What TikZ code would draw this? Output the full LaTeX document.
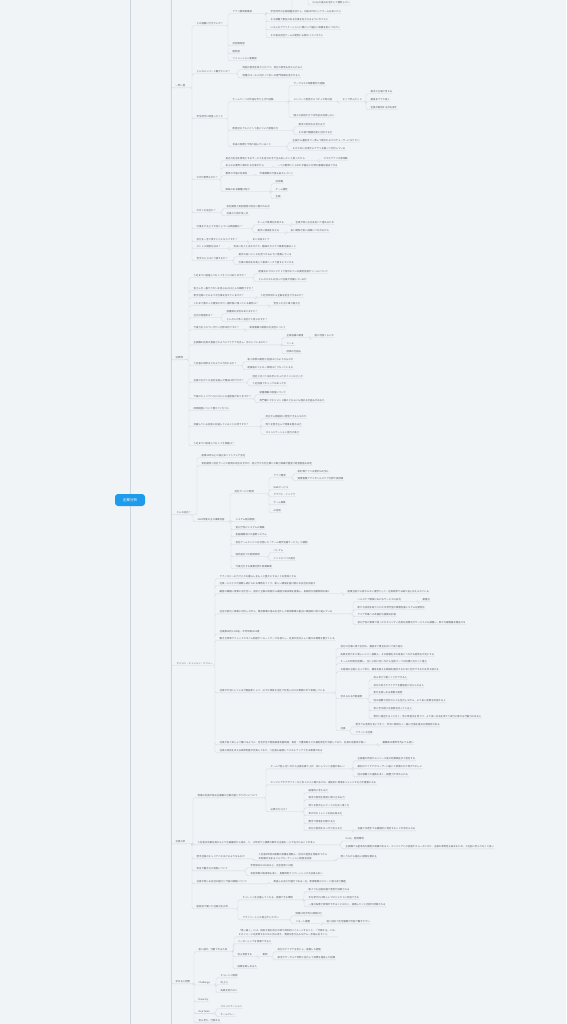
\documentclass[tikz,border=0pt]{standalone}
\usepackage{fontspec}
\setmainfont{Noto Sans CJK JP}
\definecolor{bgc}{HTML}{F1F4F7}
\definecolor{linec}{HTML}{CDD5DD}
\definecolor{txtc}{HTML}{555B61}
\definecolor{rootc}{HTML}{1E9BEA}
\begin{document}
\begin{tikzpicture}[x=1pt,y=-1pt]

    \tikzset{
      txt/.style={
        anchor=west,
        inner sep=0.5pt,
        text=txtc,
        font=\fontsize{2.4}{3}\selectfont,
      },
      root/.style={
        fill=rootc,
        rounded corners=3pt,
        text=white,
        minimum width=30pt,
        minimum height=12pt,
        inner sep=1pt,
        font=\fontsize{3.6}{4}\selectfont,
      },
      link/.style={
        draw=linec,
        line width=.35pt,
        rounded corners=1.5pt,
        to path={(\tikztostart.south east) -| ([xshift=-4pt]\tikztotarget.south west) -- (\tikztotarget.south east)},
      },
      trunk/.style={
        draw=linec,
        line width=.4pt,
        rounded corners=2pt,
        to path={(\tikztostart) |- (\tikztotarget.south west) -- (\tikztotarget.south east)},
      },
      hidden/.style={
        anchor=west,
        inner sep=0pt,
        minimum size=0pt,
      },
    }

	\useasboundingbox (0,0) rectangle (566,1024);
	\fill[bgc] (0,0) rectangle (566,1024);
	\clip (0,0) rectangle (566,1024);

	% root and spines
	\coordinate (rT) at (130,0);
	\coordinate (rB) at (130,1024);
	\coordinate (spT) at (171,0);
	\coordinate (spB) at (171,1024);
	\draw[linec,line width=.4pt] (rT) -- (rB);
	\draw[linec,line width=.4pt] (spT) -- (spB);
	\node[root] (root) at (130,500) {企業分析};

	% level 1
	\node[txt] (qa) at (175,86) {一問一答};
	\node[txt] (gq) at (175,358) {逆質問};
	\node[txt] (co) at (176,513) {どんな会社？};
	\node[txt] (vi) at (176,664) {ビジョン・ミッション・バリュー};
	\node[txt] (vo) at (175,842) {社員の声};
	\node[txt] (jb) at (175,982) {求める人物像};
	\draw[trunk] (spT) to (qa) (spT) to (gq) (spT) to (co) (spT) to (vi) (spT) to (vo) (spT) to (jb);

	% 一問一答
	\node[txt] (qa1) at (196,24) {どの部署に行きたいか？};
	\node[hidden] (qa1x) at (296,-4) {};
	\node[txt] (qa1x1) at (312,3) {Unityの強みを活かして開発したい};
	\node[txt] (qa1a) at (232,12) {アプリ開発事業部};
	\node[txt] (qa1a1) at (270,12) {学生時代の企画経験を活かし、将来はPMとしてチームを率いたい};
	\node[txt] (qa1a2) at (270,20) {その部署で責任のある仕事を任されるようになりたい};
	\node[txt] (qa1a3) at (270,28) {いろんなアプリケーションに関わって幅広い知識を身につけたい};
	\node[txt] (qa1a4) at (270,36) {その後は自社ゲームの開発にも関わっていきたい};
	\node[txt] (qa1b) at (232,44) {技術開発部};
	\node[txt] (qa1c) at (232,52) {開発部};
	\node[txt] (qa1d) at (232,59) {ソリューション事業部};
	\node[txt] (qa2) at (196,72) {どんなメンバーと働きたいか？};
	\node[txt] (qa2a) at (242,68) {周囲の意見を取り入れつつ、自分の意見も伝えられる人};
	\node[txt] (qa2b) at (242,76) {明確なゴールに向かって互いの専門知識を活かせる人};
	\node[txt] (qa3) at (196,117) {学生時代に頑張ったこと};
	\node[txt] (qa3a) at (232,100) {チームで一つの作品を作り上げた経験};
	\node[txt] (qa3a1) at (293,84) {サークルでの映像制作の経験};
	\node[txt] (qa3a2) at (293,100) {メンバーと意見がぶつかった時の話};
	\node[txt] (qa3a2a) at (342,100) {そこで学んだこと};
	\node[txt] (qa3a2a1) at (370,92) {相手の立場で考える};
	\node[txt] (qa3a2a2) at (370,100) {最後までやり抜く};
	\node[txt] (qa3a2a3) at (370,108) {全員が納得する形を探す};
	\node[txt] (qa3a3) at (293,116) {個人の技術だけでは作品は完成しない};
	\node[txt] (qa3b) at (232,129) {飲食店のアルバイトで身についた接客の力};
	\node[txt] (qa3b1) at (298,125) {相手の気持ちを考える力};
	\node[txt] (qa3b2) at (298,133) {その場で臨機応変に対応する力};
	\node[txt] (qa3c) at (232,145) {将来の目標と今取り組んでいること};
	\node[txt] (qa3c1) at (292,141) {企画から運用まで一貫して携われるプロデューサーになりたい};
	\node[txt] (qa3c2) at (292,149) {そのために日頃からアプリを触って分析している};
	\node[txt] (qa4) at (196,178) {なぜIT業界なのか？};
	\node[txt] (qa4a) at (225,159) {身近な生活を便利にするサービスを自分の手で生み出したいと思ったから};
	\node[txt] (qa4a1) at (323,159) {スマホアプリの原体験};
	\node[txt] (qa4b) at (225,166) {あらゆる業界と関われる仕事だから};
	\node[txt] (qa4b1) at (277,166) {一つの業界にとらわれず幅広い分野の課題を解決できる};
	\node[txt] (qa4c) at (225,174) {業界の今後の将来性};
	\node[txt] (qa4c1) at (259,174) {市場規模は今後も拡大していく};
	\node[txt] (qa4d) at (225,190) {興味のある職種は何か};
	\node[txt] (qa4d1) at (275,182) {技術職};
	\node[txt] (qa4d2) at (275,190) {ゲーム開発};
	\node[txt] (qa4d3) at (275,197) {企画};
	\node[txt] (qa5) at (196,211) {なぜこの会社か？};
	\node[txt] (qa5a) at (226,207) {自社開発と受託開発の両方に携われる点};
	\node[txt] (qa5b) at (226,214) {社員の人柄が良い点};
	\node[txt] (qa6) at (196,227) {仕事をする上で大切にしている価値観は？};
	\node[txt] (qa6a) at (257,223) {チームで目標を共有する};
	\node[txt] (qa6a1) at (295,223) {全員が同じ方向を向いて進めるため};
	\node[txt] (qa6b) at (257,231) {相手に感謝を伝える};
	\node[txt] (qa6b1) at (290,231) {良い関係が良い成果につながるから};
	\node[txt] (qa7) at (196,240) {自分を一言で表すとどんな人ですか？};
	\node[txt] (qa7a) at (252,240) {まとめ役タイプ};
	\node[txt] (qa8) at (196,247) {ストレス発散方法は？};
	\node[txt] (qa8a) at (233,247) {休日に友人と出かけたり、趣味のカメラで風景を撮ること};
	\node[txt] (qa9) at (196,259) {苦手な人とはどう接するか？};
	\node[txt] (qa9a) at (238,255) {相手の良いところを見つけるように意識している};
	\node[txt] (qa9b) at (238,263) {仕事の目的を共有して事実ベースで話すようにする};
	\draw[link] (qa) to (qa1) (qa) to (qa2) (qa) to (qa3) (qa) to (qa4) (qa) to (qa5) (qa) to (qa6) (qa) to (qa7) (qa) to (qa8) (qa) to (qa9);
	\draw[link] (qa1) to (qa1a) (qa1) to (qa1b) (qa1) to (qa1c) (qa1) to (qa1d);
	\draw[link] (qa1a) to (qa1x) (qa1a) to (qa1a1) (qa1a) to (qa1a2) (qa1a) to (qa1a3) (qa1a) to (qa1a4);
	\draw[link] (qa1x) to (qa1x1);
	\draw[link] (qa2) to (qa2a) (qa2) to (qa2b);
	\draw[link] (qa3) to (qa3a) (qa3) to (qa3b) (qa3) to (qa3c);
	\draw[link] (qa3a) to (qa3a1) (qa3a) to (qa3a2) (qa3a) to (qa3a3);
	\draw[link] (qa3a2) to (qa3a2a);
	\draw[link] (qa3a2a) to (qa3a2a1) (qa3a2a) to (qa3a2a2) (qa3a2a) to (qa3a2a3);
	\draw[link] (qa3b) to (qa3b1) (qa3b) to (qa3b2);
	\draw[link] (qa3c) to (qa3c1) (qa3c) to (qa3c2);
	\draw[link] (qa4) to (qa4a) (qa4) to (qa4b) (qa4) to (qa4c) (qa4) to (qa4d);
	\draw[link] (qa4a) to (qa4a1);
	\draw[link] (qa4b) to (qa4b1);
	\draw[link] (qa4c) to (qa4c1);
	\draw[link] (qa4d) to (qa4d1) (qa4d) to (qa4d2) (qa4d) to (qa4d3);
	\draw[link] (qa5) to (qa5a) (qa5) to (qa5b);
	\draw[link] (qa6) to (qa6a) (qa6) to (qa6b);
	\draw[link] (qa6a) to (qa6a1);
	\draw[link] (qa6b) to (qa6b1);
	\draw[link] (qa7) to (qa7a);
	\draw[link] (qa8) to (qa8a);
	\draw[link] (qa9) to (qa9a) (qa9) to (qa9b);

	% 逆質問
	\node[txt] (gq1) at (193,276) {入社までに勉強しておくべきことはありますか？};
	\node[txt] (gq1a) at (258,272) {配属先のプロジェクトで使われている開発言語やツールについて};
	\node[txt] (gq1b) at (258,280) {どんなスキルを持った社員が活躍しているか};
	\node[txt] (gq2) at (193,289) {皆さんが一番やりがいを感じるのはどんな瞬間ですか？};
	\node[txt] (gq3) at (193,296) {若手社員にどのような仕事を任せていますか？};
	\node[txt] (gq3a) at (260,296) {入社何年目から企画を担当できるのか？};
	\node[txt] (gq4) at (193,304) {これまで携わった開発の中で一番印象に残っている案件は？};
	\node[txt] (gq4a) at (273,304) {苦労した点と乗り越え方};
	\node[txt] (gq5) at (193,316) {社内の雰囲気は？};
	\node[txt] (gq5a) at (226,312) {部署間の交流はありますか？};
	\node[txt] (gq5b) at (226,320) {どんな人が多い会社だと感じますか？};
	\node[txt] (gq6) at (193,328) {今後力を入れていきたい分野は何ですか？};
	\node[txt] (gq6a) at (249,328) {新規事業の展開の方向性について};
	\node[txt] (gq7) at (193,343) {企画職の社員は普段どのようにアイデアを出し、形にしているのか？};
	\node[txt] (gq7a) at (286,336) {企画会議の頻度};
	\node[txt] (gq7a1) at (314,336) {週に何回くらいか};
	\node[txt] (gq7b) at (286,344) {ツール};
	\node[txt] (gq7c) at (286,352) {評価の仕組み};
	\node[txt] (gq8) at (193,364) {入社後の研修はどのように行われるか？};
	\node[txt] (gq8a) at (247,360) {新人研修の期間と内容はどのようなものか};
	\node[txt] (gq8b) at (247,368) {配属後のフォロー体制はどうなっているか};
	\node[txt] (gq9) at (193,381) {社員の方がこの会社を選んだ理由は何ですか？};
	\node[txt] (gq9a) at (252,377) {他社と比べて決め手になったポイントはどこか};
	\node[txt] (gq9b) at (252,384) {入社前後でギャップはあったか};
	\node[txt] (gq10) at (193,397) {今後のキャリアパスにはどんな選択肢がありますか？};
	\node[txt] (gq10a) at (259,393) {部署異動の制度について};
	\node[txt] (gq10b) at (259,401) {専門職とマネジメント職のどちらにも進める仕組みがあるか};
	\node[txt] (gq11) at (193,409) {評価制度について教えてください};
	\node[txt] (gq12) at (193,425) {活躍している社員に共通していることは何ですか？};
	\node[txt] (gq12a) at (265,417) {自分から積極的に発信できる人なのか};
	\node[txt] (gq12b) at (265,425) {周りを巻き込んで物事を進める力};
	\node[txt] (gq12c) at (265,433) {コミュニケーション能力の高さ};
	\node[txt] (gq13) at (193,444) {入社までに取得しておくべき資格は？};
	\draw[link] (gq) to (gq1) (gq) to (gq2) (gq) to (gq3) (gq) to (gq4) (gq) to (gq5) (gq) to (gq6) (gq) to (gq7);
	\draw[link] (gq) to (gq8) (gq) to (gq9) (gq) to (gq10) (gq) to (gq11) (gq) to (gq12) (gq) to (gq13);
	\draw[link] (gq1) to (gq1a) (gq1) to (gq1b);
	\draw[link] (gq3) to (gq3a);
	\draw[link] (gq4) to (gq4a);
	\draw[link] (gq5) to (gq5a) (gq5) to (gq5b);
	\draw[link] (gq6) to (gq6a);
	\draw[link] (gq7) to (gq7a) (gq7) to (gq7b) (gq7) to (gq7c);
	\draw[link] (gq7a) to (gq7a1);
	\draw[link] (gq8) to (gq8a) (gq8) to (gq8b);
	\draw[link] (gq9) to (gq9a) (gq9) to (gq9b);
	\draw[link] (gq10) to (gq10a) (gq10) to (gq10b);
	\draw[link] (gq12) to (gq12a) (gq12) to (gq12b) (gq12) to (gq12c);

	% どんな会社？
	\node[txt] (co1) at (201,456) {創業30年以上の独立系ソフトウェア会社};
	\node[txt] (co2) at (201,464) {受託開発と自社サービス開発の両方を手がけ、官公庁や大手企業との取引実績が豊富で経営基盤も安定};
	\node[txt] (co3) at (197,520) {2023年度の主な事業内容};
	\node[txt] (co3a) at (234,492) {自社サービス開発};
	\node[txt] (co3a1) at (273,476) {アプリ開発};
	\node[txt] (co3a1a) at (297,472) {家計簿アプリは累計100万DL};
	\node[txt] (co3a1b) at (297,479) {健康管理アプリがヘルスケア分野で高評価};
	\node[txt] (co3a2) at (273,488) {Webサービス};
	\node[txt] (co3a3) at (273,495) {クラウド・インフラ};
	\node[txt] (co3a4) at (273,503) {ゲーム事業};
	\node[txt] (co3a5) at (273,511) {AI活用};
	\node[txt] (co3b) at (235,520) {システム受託開発};
	\node[txt] (co3c) at (235,528) {官公庁向けシステムの構築};
	\node[txt] (co3d) at (235,535) {金融機関向けの基幹システム};
	\node[txt] (co3e) at (235,543) {自社ゲームエンジンを活用した「ゲーム制作支援サービス」の展開};
	\node[txt] (co3f) at (235,555) {海外拠点での開発体制};
	\node[txt] (co3f1) at (273,551) {ベトナム};
	\node[txt] (co3f2) at (273,559) {インドに二つの拠点};
	\node[txt] (co3g) at (235,567) {今後注力する事業分野と新規事業};
	\draw[link] (co) to (co1) (co) to (co2) (co) to (co3);
	\draw[link] (co3) to (co3a) (co3) to (co3b) (co3) to (co3c) (co3) to (co3d) (co3) to (co3e) (co3) to (co3f) (co3) to (co3g);
	\draw[link] (co3a) to (co3a1) (co3a) to (co3a2) (co3a) to (co3a3) (co3a) to (co3a4) (co3a) to (co3a5);
	\draw[link] (co3a1) to (co3a1a) (co3a1) to (co3a1b);
	\draw[link] (co3f) to (co3f1) (co3f) to (co3f2);

	% ビジョン
	\node[txt] (vi1) at (219,577) {テクノロジーの力で人々の暮らしをもっと豊かにすることを使命とする};
	\node[txt] (vi2) at (219,584) {社員一人ひとりが挑戦し続けられる環境をつくり、新しい価値を届け続ける会社を目指す};
	\node[txt] (vi3) at (219,592) {顧客の課題に真摯に向き合い、技術と企画の両面から最適な解決策を提案し、長期的な信頼関係を築く};
	\node[txt] (vi3a) at (347,592) {創業当初から変わらない理念として、社員研修でも繰り返し伝えられている};
	\node[txt] (vi4) at (219,612) {社会の変化に柔軟に対応しながら、既存事業の強みを活かした新規事業の創出に積極的に取り組んでいる};
	\node[txt] (vi4a) at (357,600) {ヘルスケア領域におけるサービスの拡充};
	\node[txt] (vi4a1) at (422,600) {最重点};
	\node[txt] (vi4b) at (357,608) {新たな技術を取り入れた次世代型の業務支援システムを開発中};
	\node[txt] (vi4c) at (357,615) {アジア市場への本格的な展開を計画};
	\node[txt] (vi4d) at (357,623) {官公庁向け事業で培ったセキュリティ技術を民間向けサービスにも展開し、新たな顧客層を開拓する};
	\node[txt] (vi5) at (219,632) {社員数は約1,200名、平均年齢は32歳};
	\node[txt] (vi6) at (219,639) {働き方改革でフレックスタイム制度やリモートワークを導入し、社員が自分らしく働ける環境を整えている};
	\node[txt] (vi7) at (219,691) {社員が大切にしている行動指針として、以下の項目を全社で共有し日々の業務の中で実践している};
	\node[txt] (vi7a) at (340,647) {自分の仕事に誇りを持ち、最後まで責任を持って取り組む};
	\node[txt] (vi7b) at (340,655) {失敗を恐れずに新しいことへ挑戦し、その経験を次の成長につなげる姿勢を大切にする};
	\node[txt] (vi7c) at (340,662) {チームの仲間を信頼し、互いに助け合いながら全員で一つの目標に向かって進む};
	\node[txt] (vi7d) at (340,670) {お客様の立場に立って考え、期待を超える価値を提供するために何ができるかを考え続ける};
	\node[txt] (vi7e) at (340,697) {求められる行動姿勢};
	\node[txt] (vi7e1) at (373,678) {自ら考えて動くことができる人};
	\node[txt] (vi7e2) at (373,686) {自分の考えやアイデアを積極的に伝えられる人};
	\node[txt] (vi7e3) at (373,693) {変化を楽しめる柔軟な姿勢};
	\node[txt] (vi7e4) at (373,701) {他の部署や社外の人とも協力しながら、より良い成果を目指せる人};
	\node[txt] (vi7e5) at (373,709) {常に学び続ける意欲を持っている人};
	\node[txt] (vi7e6) at (373,717) {現状に満足することなく、常に改善点を見つけ、より良い方法を考えて実行に移せる行動力のある人};
	\node[txt] (vi7f) at (340,729) {社風};
	\node[txt] (vi7f1) at (355,725) {若手でも意見を言いやすく、年次に関係なく一緒に仕事を進める雰囲気がある};
	\node[txt] (vi7f2) at (355,733) {フラットな社風};
	\node[txt] (vi8) at (219,743) {社員が長く安心して働けるように、住宅手当や資格取得支援制度、育児・介護休暇などの福利厚生が充実しており、社員の定着率が高い};
	\node[txt] (vi8a) at (382,743) {離職率は業界平均よりも低い};
	\node[txt] (vi9) at (219,751) {社員の成長を支える研修制度が充実しており、入社後も継続してスキルアップできる環境がある};
	\draw[link] (vi) to (vi1) (vi) to (vi2) (vi) to (vi3) (vi) to (vi4) (vi) to (vi5) (vi) to (vi6) (vi) to (vi7) (vi) to (vi8) (vi) to (vi9);
	\draw[link] (vi3) to (vi3a);
	\draw[link] (vi4) to (vi4a) (vi4) to (vi4b) (vi4) to (vi4c) (vi4) to (vi4d);
	\draw[link] (vi4a) to (vi4a1);
	\draw[link] (vi7) to (vi7a) (vi7) to (vi7b) (vi7) to (vi7c) (vi7) to (vi7d) (vi7) to (vi7e) (vi7) to (vi7f);
	\draw[link] (vi7e) to (vi7e1) (vi7e) to (vi7e2) (vi7e) to (vi7e3) (vi7e) to (vi7e4) (vi7e) to (vi7e5) (vi7e) to (vi7e6);
	\draw[link] (vi7f) to (vi7f1) (vi7f) to (vi7f2);
	\draw[link] (vi8) to (vi8a);

	% 社員の声
	\node[txt] (vo1) at (197,796) {現場の社員が語る企画職の仕事内容とやりがいについて};
	\node[txt] (vo1a) at (270,767) {チームで話し合いながら企画を練り上げ、形にしていく過程が楽しい};
	\node[txt] (vo1a1) at (357,759) {企画書の作成からリリース後の効果検証まで担当する};
	\node[txt] (vo1a2) at (357,767) {最初のアイデアがユーザーに届いて評価された時がうれしい};
	\node[txt] (vo1a3) at (357,775) {他の部署との連携も多く、調整力が求められる};
	\node[txt] (vo1b) at (270,783) {エンジニアやデザイナーなど多くの人と関わるため、最終的に物事をジャッジする力が重要になる};
	\node[txt] (vo1c) at (270,810) {必要な力とは？};
	\node[txt] (vo1c1) at (308,791) {論理的に考える力};
	\node[txt] (vo1c2) at (308,798) {相手の意見を素直に受け止める力};
	\node[txt] (vo1c3) at (308,806) {周りを巻き込んで一つの方向へ導く力};
	\node[txt] (vo1c4) at (308,814) {世の中のトレンドを読み取る力};
	\node[txt] (vo1c5) at (308,822) {数字で物事を判断する力};
	\node[txt] (vo1c6) at (308,829) {自分の意見をはっきり伝える力};
	\node[txt] (vo1c6a) at (357,829) {会議では若手でも積極的に発言することが求められる};
	\node[txt] (vo2) at (197,843) {入社後は先輩社員のもとで企画補助から始め、二、三年目で小規模な案件の企画を一人で任されることが多い};
	\node[txt] (vo2a) at (345,839) {Unity、開発環境};
	\node[txt] (vo2b) at (345,847) {企画職でも基本的な開発の知識があると、エンジニアとの会話がスムーズになり、企画の実現性も高まるため、入社前に学んでおくと良い};
	\node[txt] (vo3) at (196,857) {若手社員のキャリアパスはどのようなものか};
	\node[txt,align=left,font=\fontsize{2.4}{4}\selectfont] (vo3a) at (258,857) {入社後3年間は複数の部署を経験し、自分の適性を見極めてから\\本配属が決まるジョブローテーション制度を採用};
	\node[txt] (vo3a1) at (340,857) {若いうちから幅広い経験を積める};
	\node[txt] (vo4) at (196,869) {休日や働き方の実態について};
	\node[txt] (vo4a) at (250,866) {年間休日は125日以上、完全週休二日制};
	\node[txt] (vo4b) at (250,874) {有給休暇の取得率も高く、長期休暇でリフレッシュする社員も多い};
	\node[txt] (vo5) at (196,882) {社員が感じる会社の魅力と今後の課題について};
	\node[txt] (vo5a) at (273,882) {風通しの良さが魅力である一方、新規事業のスピード感はまだ課題};
	\node[txt] (vo6) at (196,907) {座談会で聞いた社員の生の声};
	\node[txt] (vo6a) at (242,898) {チャレンジを応援してくれる、挑戦できる環境};
	\node[txt] (vo6a1) at (308,890) {新人でも企画会議で意見が採用される};
	\node[txt] (vo6a2) at (308,898) {手を挙げれば新しいプロジェクトに参加できる};
	\node[txt] (vo6a3) at (308,905) {一度の失敗で評価が下がることはなく、挑戦したこと自体が評価される};
	\node[txt] (vo6b) at (242,918) {プライベートとの両立がしやすい};
	\node[txt] (vo6b1) at (295,914) {残業は月平均15時間ほど};
	\node[txt] (vo6b2) at (295,922) {リモート勤務};
	\node[txt] (vo6b2a) at (326,922) {週二回まで在宅勤務が可能で働きやすい};
	\draw[link] (vo) to (vo1) (vo) to (vo2) (vo) to (vo3) (vo) to (vo4) (vo) to (vo5) (vo) to (vo6);
	\draw[link] (vo1) to (vo1a) (vo1) to (vo1b) (vo1) to (vo1c);
	\draw[link] (vo1a) to (vo1a1) (vo1a) to (vo1a2) (vo1a) to (vo1a3);
	\draw[link] (vo1c) to (vo1c1) (vo1c) to (vo1c2) (vo1c) to (vo1c3) (vo1c) to (vo1c4) (vo1c) to (vo1c5) (vo1c) to (vo1c6);
	\draw[link] (vo1c6) to (vo1c6a);
	\draw[link] (vo2) to (vo2a) (vo2) to (vo2b);
	\draw[link] (vo3) to (vo3a);
	\draw[link] (vo3a) to (vo3a1);
	\draw[link] (vo4) to (vo4a) (vo4) to (vo4b);
	\draw[link] (vo5) to (vo5a);
	\draw[link] (vo6) to (vo6a) (vo6) to (vo6b);
	\draw[link] (vo6a) to (vo6a1) (vo6a) to (vo6a2) (vo6a) to (vo6a3);
	\draw[link] (vo6b) to (vo6b1) (vo6b) to (vo6b2);
	\draw[link] (vo6b2) to (vo6b2a);

	% 求める人物像
	\node[txt] (jb1) at (198,950) {思い描き、行動できる人材};
	\node[txt,align=left,font=\fontsize{2.4}{4}\selectfont] (jb1a) at (238,933) {「思い描く」とは、目指す姿を自分の頭で具体的にイメージすること。「行動する」とは、\\そのイメージを実現するために自ら考え、周囲を巻き込みながら一歩踏み出すこと。};
	\node[txt] (jb1b) at (237,942) {リーダーシップを発揮できる人};
	\node[txt] (jb1c) at (237,955) {自ら発信する};
	\node[txt] (jb1c1) at (262,955) {事例};
	\node[txt] (jb1c1a) at (277,950) {自分のアイデアを形にし、提案した経験};
	\node[txt] (jb1c1b) at (277,958) {部活やサークルで仲間と協力して目標を達成した経験};
	\node[txt] (jb1d) at (237,967) {挑戦を楽しめる人};
	\node[txt] (jb2) at (198,983) {Challenge};
	\node[txt] (jb2a) at (220,976) {チャレンジ精神};
	\node[txt] (jb2b) at (220,983) {向上心};
	\node[txt] (jb2c) at (220,991) {失敗を恐れない};
	\node[txt] (jb3) at (198,1000) {Diversity};
	\node[txt] (jb4) at (198,1012) {One Team};
	\node[txt] (jb4a) at (220,1007) {コミュニケーション};
	\node[txt] (jb4b) at (220,1015) {チームプレー};
	\node[txt] (jb5) at (198,1021) {自ら考え、行動する};
	\draw[link] (jb) to (jb1) (jb) to (jb2) (jb) to (jb3) (jb) to (jb4) (jb) to (jb5);
	\draw[link] (jb1) to (jb1a) (jb1) to (jb1b) (jb1) to (jb1c) (jb1) to (jb1d);
	\draw[link] (jb1c) to (jb1c1);
	\draw[link] (jb1c1) to (jb1c1a) (jb1c1) to (jb1c1b);
	\draw[link] (jb2) to (jb2a) (jb2) to (jb2b) (jb2) to (jb2c);
	\draw[link] (jb4) to (jb4a) (jb4) to (jb4b);

\end{tikzpicture}
\end{document}
